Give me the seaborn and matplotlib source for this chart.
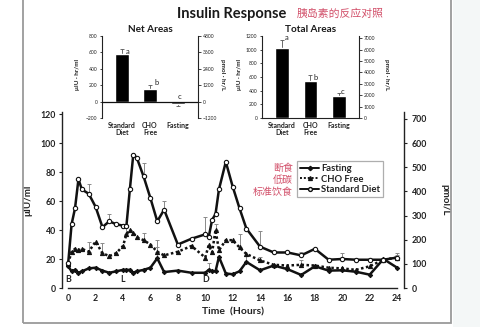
import numpy as np
import pandas as pd
import matplotlib
matplotlib.use('Agg')
import matplotlib.pyplot as plt
import seaborn as sns
from matplotlib.lines import Line2D
from matplotlib.patches import Rectangle

# ---------------- data ----------------
hours = [0, 0.25, 0.5, 0.75, 1, 1.5, 2, 2.5, 3, 3.5, 4, 4.25, 4.5, 4.75, 5, 5.5, 6, 6.5, 7,
         8, 9, 10, 10.25, 10.5, 10.75, 11, 11.5, 12, 12.5, 13, 14, 15, 16, 17, 18, 19, 20,
         21, 22, 23, 24]
standard = [17, 44, 55, 75, 68, 65, 56, 42, 46, 44, 43, 43, 68, 92, 90, 77, 62, 46, 54,
            30, 34, 37, 35, 47, 51, 68, 87, 70, 55, 41, 28.5, 24.5, 24.5, 22.5, 27, 19.5, 20,
            19.5, 19.5, 19.5, 21]
cho_free = [17, 25, 27, 26, 27, 25, 32, 24, 22, 24, 29, 37, 40, 38, 35, 33, 30, 25, 22.5,
            25, 29, 21, 29.5, 24.5, 40, 26, 33, 33, 28, 23.5, 19, 16, 15.5, 16, 15.5, 14, 13.5,
            12.5, 15, 19.5, 21]
fasting = [15, 11.5, 12.5, 10.5, 11.5, 13.5, 14, 12, 10.5, 11.5, 12.5, 12.5, 12.5, 10.5, 11.5,
           12.5, 14, 20.5, 11, 12, 10.5, 10.5, 12.5, 11.5, 11.5, 21.5, 10, 9.5, 11.5, 18, 12.2,
           15.5, 13, 9, 15, 12, 12.2, 11.2, 9.2, 20, 14]

# error bar tops (upper error only)
std_err_t = [1.5, 3, 5.5, 7, 10, 14, 17, 20, 24]
std_err_top = [72, 51, 86, 60, 49, 39, 25, 24, 24]
cho_err_t = [1.5, 2.5, 4.25, 5.5, 6.5, 10.75, 12.5, 14, 17, 24]
cho_err_top = [32, 31, 42, 38, 33, 44, 37, 21.5, 19.5, 23]
fast_err_t = [6.5, 10.25, 13]
fast_err_top = [28, 17, 22]

meal_t = [0, 4, 10]
meal_lbl = ['B', 'L', 'D']

bar_cats = ['Standard\nDiet', 'CHO\nFree', 'Fasting']
net_vals = [582, 158, -25]
net_err = [55, 40, 25]
net_letters = ['a', 'b', 'c']
total_vals = [1020, 535, 315]
total_err = [120, 100, 55]
total_letters = ['a', 'b', 'c']

legend_labels = ['Fasting', 'CHO Free', 'Standard Diet']
legend_cn = ['断食', '低碳', '标准饮食']

# ---------------- style ----------------
sns.set_theme(style='white')
plt.rcParams['font.family'] = ['Lato', 'Noto Sans CJK SC', 'DejaVu Sans']
plt.rcParams['axes.edgecolor'] = '#222222'
plt.rcParams['xtick.color'] = '#222222'
plt.rcParams['ytick.color'] = '#222222'
CN = ['Noto Sans CJK SC', 'DejaVu Sans']
RED = '#d2506a'
INK = '#222222'

fig = plt.figure(figsize=(4.8, 3.27), dpi=100)
fig.patch.set_facecolor('white')

# outer frame
fig.patches.append(Rectangle((23/480, 1-323/327), (451-23)/480, 1.2, transform=fig.transFigure,
                             fill=False, edgecolor='#9a9a9a', lw=1.3, zorder=0))
fig.patches.append(Rectangle((453/480, 0), 1, 1, transform=fig.transFigure,
                             facecolor='#f4f7f7', edgecolor='none', zorder=0))

# ---------------- main axes ----------------
ax = fig.add_axes([62/480, 1-288/327, (404-62)/480, (288-112)/327])
ax.set_facecolor('none')
lw = 1.8
sns.lineplot(x=hours, y=fasting, ax=ax, color='#111111', lw=lw, marker='D', markersize=2.2,
             markeredgecolor='#111111', markerfacecolor='#111111', zorder=3)
sns.lineplot(x=hours, y=cho_free, ax=ax, color='#111111', lw=lw, linestyle=(0, (1, 1)),
             marker='^', markersize=3.0, markeredgecolor='#111111', markerfacecolor='#111111', zorder=3)
sns.lineplot(x=hours, y=standard, ax=ax, color='#111111', lw=lw, marker='o', markersize=3.1,
             markerfacecolor='white', markeredgecolor='#111111', markeredgewidth=0.8, zorder=4)


def errs(ts, tops, series):
    ys = [series[hours.index(t)] for t in ts]
    up = [tp - y for tp, y in zip(tops, ys)]
    ax.errorbar(ts, ys, yerr=[np.zeros(len(ys)), up], fmt='none', ecolor='#8a8a8a',
                elinewidth=0.7, capsize=1.5, capthick=0.7, zorder=2)


errs(std_err_t, std_err_top, standard)
errs(cho_err_t, cho_err_top, cho_free)
errs(fast_err_t, fast_err_top, fasting)

ax.set_xlim(-0.45, 24.5)
ax.set_ylim(0, 121.4)
ax.set_xticks(range(0, 25, 2))
ax.set_yticks(range(0, 121, 20))
ax.spines['top'].set_visible(False)
ax.spines['right'].set_visible(False)
ax.spines['bottom'].set_bounds(0, 24)
for s in ['left', 'bottom']:
    ax.spines[s].set_linewidth(1.0)
ax.tick_params(axis='both', labelsize=6.3, length=2.5, width=0.8, pad=2, direction='out')
for lab in ax.get_xticklabels() + ax.get_yticklabels():
    lab.set_fontweight('bold')
ax.set_xlabel('Time  (Hours)', fontsize=7.5, fontweight='bold', labelpad=3, color=INK)
ax.set_ylabel('μIU/ml', fontsize=7, fontweight='bold', labelpad=6, color=INK)
for t, l in zip(meal_t, meal_lbl):
    ax.text(t, 6.2, l, fontsize=6.3, fontweight='bold', ha='center', va='center', color=INK)

ax2 = ax.twinx()
ax2.set_ylim(0, 121.4*6)
ax2.set_yticks(range(0, 701, 100))
for s in ['top', 'left', 'bottom']:
    ax2.spines[s].set_visible(False)
ax2.spines['right'].set_linewidth(1.0)
ax2.tick_params(axis='y', labelsize=6.3, length=2.5, width=0.8, pad=3)
for lab in ax2.get_yticklabels():
    lab.set_fontweight('bold')
ax2.set_ylabel('pmol/L', fontsize=7, fontweight='bold', rotation=270, labelpad=16, color=INK)
ax2.grid(False)
ax.grid(False)

# legend
handles = [
    Line2D([], [], color='#111111', lw=1.4, marker='D', markersize=2.2),
    Line2D([], [], color='#111111', lw=1.4, linestyle=(0, (1, 1)), marker='^', markersize=2.8),
    Line2D([], [], color='#111111', lw=1.4, marker='o', markersize=2.8, markerfacecolor='white'),
]
leg = fig.legend(handles, legend_labels, loc='upper left', bbox_to_anchor=(297/480, 1-161/327),
                 bbox_transform=fig.transFigure, fontsize=6.8, frameon=True, fancybox=False,
                 edgecolor='#9a9a9a', handlelength=2.0, handletextpad=0.2, borderpad=0.35,
                 labelspacing=0.15, borderaxespad=0)
leg.get_frame().set_linewidth(0.9)
for txt in leg.get_texts():
    txt.set_fontweight('bold')
    txt.set_color(INK)
for lbl, yy in zip(legend_cn, [168, 180, 192]):
    fig.text(293/480, 1-yy/327, lbl, family=CN, fontsize=7.2, color=RED, ha='right', va='center')

# titles
fig.text(232/480, 1-14/327, 'Insulin Response', fontsize=10.5, fontweight='bold', ha='center',
         va='center', color='#1a1a1a')
fig.text(297/480, 1-14/327, '胰岛素的反应对照', family=CN, fontsize=7.8, color=RED, ha='left',
         va='center')


# ---------------- insets ----------------
def inset(rect, vals, err, letters, letter_pos, ylim, yticks, rticks, title, zero_line,
          lab_left_px, lab_right_px):
    a = fig.add_axes(rect)
    a.set_facecolor('none')
    sns.barplot(x=bar_cats, y=vals, ax=a, color='black', width=0.48, saturation=1, zorder=3)
    a.errorbar(range(3), vals, yerr=err, fmt='none', ecolor='#555555', elinewidth=0.6,
               capsize=1.2, capthick=0.6, zorder=2)
    a.set_xlim(-0.7, 2.7)
    a.set_ylim(*ylim)
    a.set_yticks(yticks)
    a.spines['top'].set_visible(False)
    a.spines['right'].set_visible(False)
    if zero_line:
        a.spines['bottom'].set_visible(False)
        a.axhline(0, color='#111111', lw=0.9, zorder=4)
    a.spines['left'].set_linewidth(0.8)
    a.spines['bottom'].set_linewidth(0.8)
    a.tick_params(axis='y', labelsize=3.6, length=1.8, width=0.6, pad=1.5)
    a.tick_params(axis='x', labelsize=5, length=0, pad=3)
    for lab in a.get_xticklabels():
        lab.set_fontweight('bold')
        lab.set_linespacing(1.0)
    a.set_ylabel('')
    a.set_xlabel('')
    a.set_title(title, fontsize=7.2, fontweight='bold', pad=3, color='#1a1a1a')
    for (lx, ly), l in zip(letter_pos, letters):
        a.text(lx, ly, l, fontsize=5.5, ha='center', va='center', color=INK)
    a.grid(False)
    b = a.twinx()
    b.set_ylim(ylim[0]*6, ylim[1]*6)
    b.set_yticks(rticks)
    for s in ['top', 'left', 'bottom']:
        b.spines[s].set_visible(False)
    b.spines['right'].set_linewidth(0.8)
    b.tick_params(axis='y', labelsize=3.6, length=1.8, width=0.6, pad=1.5)
    b.grid(False)
    fig.text(lab_left_px/480, 1-74/327, 'μIU · hr/ml', fontsize=4.6, fontweight='bold',
             rotation=90, ha='center', va='center', color=INK)
    fig.text(lab_right_px/480, 1-75/327, 'pmol · hr/L', fontsize=4.6, fontweight='bold',
             rotation=270, ha='center', va='center', color=INK)
    return a


inset([102/480, 1-118/327, 96/480, 82/327], net_vals, net_err, net_letters,
      [(0.22, 606), (1.23, 227), (2.06, 57)], (-200, 800), range(-200, 801, 200),
      range(-1200, 4801, 1200), 'Net Areas', True, 77, 223)
inset([262/480, 1-118/327, 97/480, 82/327], total_vals, total_err, total_letters,
      [(0.17, 1175), (1.18, 595), (2.12, 385)], (0, 1200), range(0, 1201, 200),
      range(0, 7001, 1000), 'Total Areas', False, 239, 387)

fig.savefig('out.png', dpi=100)
